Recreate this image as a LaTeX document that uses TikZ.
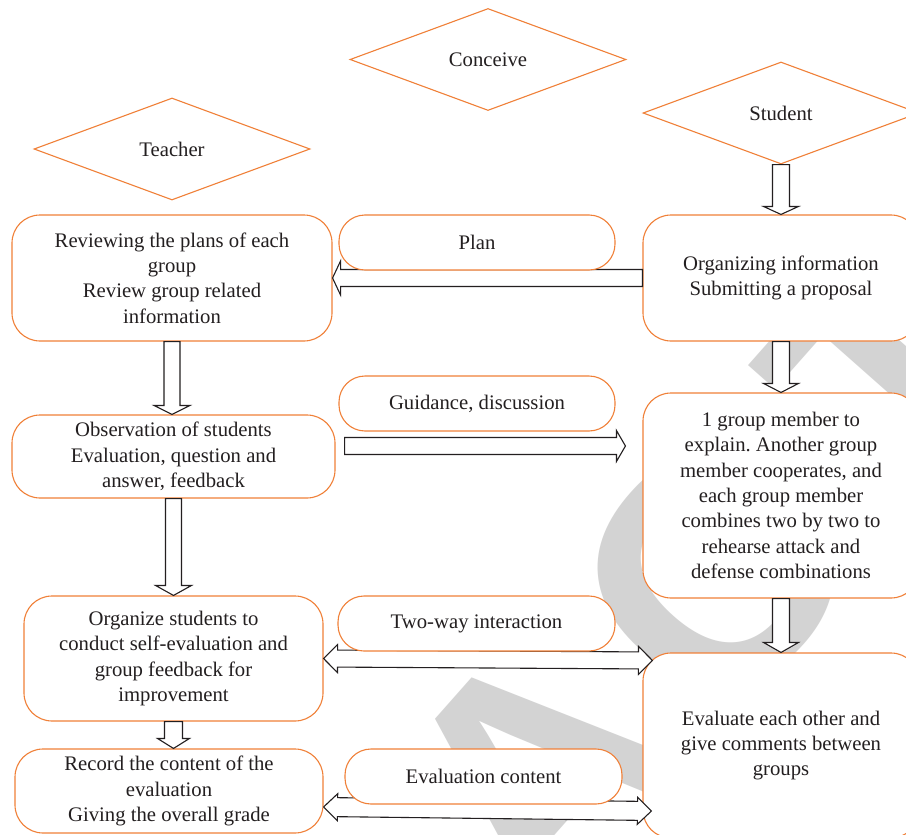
\documentclass[tikz,border=0pt]{standalone}
\usepackage{fontspec}
\setmainfont{Liberation Serif}
\newfontfamily\wmfont{Liberation Sans}
\usetikzlibrary{shapes.geometric,calc}
\frenchspacing

\definecolor{edgeor}{RGB}{240,128,56}
\definecolor{ink}{RGB}{35,31,32}
\definecolor{wmgray}{RGB}{211,211,211}

\newcommand{\boxfont}{\fontsize{20.7}{25.3}\selectfont}

\tikzset{
  flowbox/.style={draw=edgeor, line width=1.1pt, fill=white, rounded corners=28pt,
    align=center, inner sep=0pt, text=ink, font=\boxfont},
  pill/.style={flowbox, rounded corners=26pt},
  role/.style={draw=edgeor, line width=1.1pt, fill=white, diamond, inner sep=0pt,
    text=ink, font=\boxfont},
  blockarrow/.style={draw=ink, line width=1.1pt, fill=white, line join=miter},
  stampletter/.style={text=wmgray, inner sep=0pt, anchor=base, transform shape,
    font=\wmfont\bfseries\fontsize{325}{325}\selectfont},
}

% block arrow: from, to, shaft half width, head half width, head length
\newcommand{\blockarrow}[5]{%
  \coordinate (ba-h) at ($(#2)!#5!(#1)$);
  \draw[blockarrow] ($(#1)!#3!90:(#2)$) -- ($(ba-h)!#3!90:(#2)$) -- ($(ba-h)!#4!90:(#2)$)
    -- (#2) -- ($(ba-h)!#4!-90:(#2)$) -- ($(ba-h)!#3!-90:(#2)$) -- ($(#1)!#3!-90:(#2)$) -- cycle;}

% double-headed block arrow: end, end, shaft half width, head half width, head length
\newcommand{\twowayarrow}[5]{%
  \coordinate (tw-a) at ($(#1)!#5!(#2)$);
  \coordinate (tw-b) at ($(#2)!#5!(#1)$);
  \draw[blockarrow] (#1) -- ($(tw-a)!#4!90:(#2)$) -- ($(tw-a)!#3!90:(#2)$)
    -- ($(tw-b)!#3!90:(#2)$) -- ($(tw-b)!#4!90:(#2)$) -- (#2)
    -- ($(tw-b)!#4!-90:(#2)$) -- ($(tw-b)!#3!-90:(#2)$)
    -- ($(tw-a)!#3!-90:(#2)$) -- ($(tw-a)!#4!-90:(#2)$) -- cycle;}

\begin{document}
\begin{tikzpicture}[x=1pt, y=-1pt]
\useasboundingbox (0,0) rectangle (906,835);
\clip (0,0) rectangle (906,835);
\fill[white] (0,0) rectangle (906,835);

% background stamp, set letter by letter along a rising baseline
\begin{scope}[shift={(621,847)}, rotate=48.5]
  \node[stampletter] (st1) at (-1006,0) {R};
  \node[stampletter] (st2) at (-750,0) {E};
  \node[stampletter] (st3) at (-512,0) {T};
  \node[stampletter] (st4) at (-265,0) {R};
  \node[stampletter] (st5) at (0,0) {A};
  \node[stampletter] (st6) at (265,0) {C};
  \node[stampletter] (st7) at (541,0) {T};
  \node[stampletter] (st8) at (779,0) {E};
  \node[stampletter] (st9) at (1035,0) {D};
\end{scope}

% roles
\node[role, minimum width=276pt, minimum height=102pt] (C) at (488,59.5) {Conceive};
\node[role, minimum width=276pt, minimum height=102pt] (T) at (172,149) {Teacher};
\node[role, minimum width=276pt, minimum height=102pt] (S) at (781,113) {Student};

% teacher column
\node[flowbox, minimum width=320pt, minimum height=126pt] (L1) at (172,278)
  {Reviewing the plans of each\\group\\Review group related\\information};
\node[flowbox, minimum width=323pt, minimum height=83pt] (L2) at (173.5,456.5)
  {Observation of students\\Evaluation, question and\\answer, feedback};
\node[flowbox, minimum width=299pt, minimum height=125pt] (L3) at (173.5,658.5)
  {Organize students to\\conduct self-evaluation and\\group feedback for\\improvement};
\node[flowbox, minimum width=308pt, minimum height=84pt] (L4) at (169,791)
  {Record the content of the\\evaluation\\Giving the overall grade};

% student column
\node[flowbox, minimum width=276pt, minimum height=126pt] (R1) at (781,278)
  {Organizing information\\Submitting a proposal};
\node[flowbox, minimum width=276pt, minimum height=205pt] (R2) at (781,495.5)
  {1 group member to\\explain. Another group\\member cooperates, and\\each group member\\combines two by two to\\rehearse attack and\\defense combinations};
\node[flowbox, minimum width=276pt, minimum height=185pt] (R3) at (781,745.5)
  {Evaluate each other and\\give comments between\\groups};

% connectors
\blockarrow{S.south}{R1.north}{8.5pt}{17.5pt}{8pt}
\blockarrow{R1.west}{L1.east}{8.5pt}{17pt}{8pt}
\blockarrow{L1.south}{L1.south |- L2.north}{8pt}{18pt}{9pt}
\coordinate (gd-from) at ($(L2.east)+(9,-10.5)$);
\coordinate (gd-to) at ($(gd-from -| R2.west)+(-17,0)$);
\blockarrow{gd-from}{gd-to}{8.5pt}{15.5pt}{9pt}
\blockarrow{R1.south}{R1.south |- R2.north}{8.5pt}{17.5pt}{9pt}
\blockarrow{L2.south}{L2.south |- L3.north}{8pt}{18pt}{10pt}
\blockarrow{R2.south}{R2.south |- R3.north}{8.5pt}{17.5pt}{10pt}
\blockarrow{L3.south}{L3.south |- L4.north}{9pt}{16pt}{10pt}
\coordinate (tw1-to) at ($(L3.east -| R3.west)+(10,2)$);
\twowayarrow{L3.east}{tw1-to}{8.5pt}{14pt}{14pt}
\coordinate (tw2-from) at ($(L4.east)+(0,16)$);
\coordinate (tw2-to) at ($(L4.east -| R3.west)+(9,20)$);
\twowayarrow{tw2-from}{tw2-to}{9.5pt}{13.5pt}{14pt}

% labels on the connectors
\node[pill, minimum width=276pt, minimum height=55pt] (P1) at (477,242.5) {Plan};
\node[pill, minimum width=276pt, minimum height=55pt] (P2) at (477,403.5) {Guidance, discussion};
\node[pill, minimum width=277pt, minimum height=55pt] (P3) at (476.5,623.5) {Two-way interaction};
\node[pill, minimum width=277pt, minimum height=55pt] (P4) at (483.5,776.5) {Evaluation content};
\end{tikzpicture}
\end{document}
